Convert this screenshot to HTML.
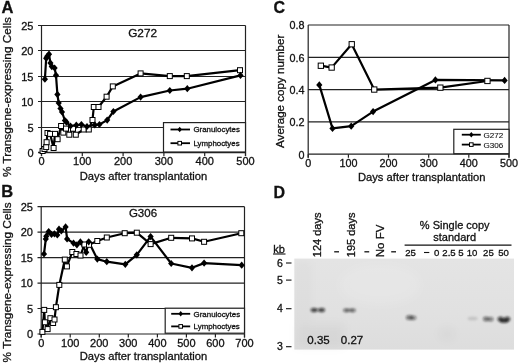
<!DOCTYPE html>
<html><head><meta charset="utf-8"><style>
html,body{margin:0;padding:0;background:#fff;}
svg{display:block;filter:grayscale(1);}
text{font-family:"Liberation Sans", sans-serif;fill:#111;stroke:#111;stroke-width:0.3px;}
</style></head><body>
<svg width="520" height="364" viewBox="0 0 520 364">
<defs>
<linearGradient id="gel" x1="0" y1="0" x2="0" y2="1">
<stop offset="0" stop-color="#e4e4e4"/><stop offset="0.6" stop-color="#e1e1e1"/><stop offset="1" stop-color="#dddddd"/>
</linearGradient>
<filter id="blur" x="-50%" y="-50%" width="200%" height="200%"><feGaussianBlur stdDeviation="1.1"/></filter>
<filter id="blur3" x="-50%" y="-50%" width="200%" height="200%"><feGaussianBlur stdDeviation="4"/></filter>
</defs>
<text x="1.5" y="12.6" font-size="16.5" text-anchor="start" font-weight="bold" >A</text>
<line x1="38" y1="127.5" x2="245.5" y2="127.5" stroke="#222" stroke-width="1.2"/>
<line x1="38" y1="101.5" x2="245.5" y2="101.5" stroke="#222" stroke-width="1.2"/>
<line x1="38" y1="76.5" x2="245.5" y2="76.5" stroke="#222" stroke-width="1.2"/>
<line x1="38" y1="50.5" x2="245.5" y2="50.5" stroke="#222" stroke-width="1.2"/>
<line x1="38" y1="25.5" x2="245.5" y2="25.5" stroke="#222" stroke-width="1.2"/>
<line x1="41.5" y1="25.5" x2="41.5" y2="156.0" stroke="#222" stroke-width="1.2"/>
<line x1="38" y1="152.5" x2="245.5" y2="152.5" stroke="#222" stroke-width="1.3"/>
<line x1="245.5" y1="25.5" x2="245.5" y2="156.0" stroke="#222" stroke-width="1.2"/>
<line x1="41.5" y1="152.5" x2="41.5" y2="156.0" stroke="#222" stroke-width="1.2"/>
<text x="41.5" y="165.3" font-size="11" text-anchor="middle" font-weight="normal" >0</text>
<line x1="82.3" y1="152.5" x2="82.3" y2="156.0" stroke="#222" stroke-width="1.2"/>
<text x="82.3" y="165.3" font-size="11" text-anchor="middle" font-weight="normal" >100</text>
<line x1="123.1" y1="152.5" x2="123.1" y2="156.0" stroke="#222" stroke-width="1.2"/>
<text x="123.1" y="165.3" font-size="11" text-anchor="middle" font-weight="normal" >200</text>
<line x1="163.9" y1="152.5" x2="163.9" y2="156.0" stroke="#222" stroke-width="1.2"/>
<text x="163.9" y="165.3" font-size="11" text-anchor="middle" font-weight="normal" >300</text>
<line x1="204.7" y1="152.5" x2="204.7" y2="156.0" stroke="#222" stroke-width="1.2"/>
<text x="204.7" y="165.3" font-size="11" text-anchor="middle" font-weight="normal" >400</text>
<line x1="245.5" y1="152.5" x2="245.5" y2="156.0" stroke="#222" stroke-width="1.2"/>
<text x="245.5" y="165.3" font-size="11" text-anchor="middle" font-weight="normal" >500</text>
<text x="33.5" y="156.9" font-size="11" text-anchor="end" font-weight="normal" >0</text>
<text x="33.5" y="131.5" font-size="11" text-anchor="end" font-weight="normal" >5</text>
<text x="33.5" y="106.1" font-size="11" text-anchor="end" font-weight="normal" >10</text>
<text x="33.5" y="80.7" font-size="11" text-anchor="end" font-weight="normal" >15</text>
<text x="33.5" y="55.3" font-size="11" text-anchor="end" font-weight="normal" >20</text>
<text x="33.5" y="29.9" font-size="11" text-anchor="end" font-weight="normal" >25</text>
<text x="142.6" y="36.6" font-size="11.8" text-anchor="middle" font-weight="normal" >G272</text>
<text x="143.5" y="179.5" font-size="11.2" text-anchor="middle" font-weight="normal" >Days after transplantation</text>
<text transform="translate(10.8,97) rotate(-90)" font-size="11.8" text-anchor="middle">% Transgene-expressing Cells</text>
<polyline points="42.6,151.0 44.5,149.0 46.2,147.1 46.6,142.2 47.5,133.0 50.1,133.9 53.6,148.0 55.0,133.9 57.6,139.2 61.1,126.0 63.3,132.6 66.0,128.6 69.3,134.7 73.0,128.7 75.8,134.7 83.7,129.5 88.8,129.5 92.5,120.0 93.8,107.0 98.5,107.0 106.6,96.7 112.8,86.4 140.6,73.4 169.8,76.1 186.8,76.1 240.0,70.2" fill="none" stroke="#000" stroke-width="2.2" stroke-linejoin="round"/>
<polyline points="44.9,79.2 46.2,58.3 47.3,56.2 49.0,54.2 50.4,63.0 51.8,66.6 54.6,68.0 56.0,75.3 57.4,94.4 58.7,103.0 60.5,108.5 62.0,112.0 64.9,120.5 66.5,122.2 70.5,126.0 76.3,125.2 81.4,124.5 87.0,126.5 94.8,124.9 99.4,124.5 107.2,120.1 113.4,111.5 140.6,97.1 169.8,90.5 187.3,88.7 240.5,75.4" fill="none" stroke="#000" stroke-width="2.2" stroke-linejoin="round"/>
<rect x="40.1" y="148.5" width="5.0" height="5.0" fill="#fff" stroke="#000" stroke-width="1"/>
<rect x="42.0" y="146.5" width="5.0" height="5.0" fill="#fff" stroke="#000" stroke-width="1"/>
<rect x="43.7" y="144.6" width="5.0" height="5.0" fill="#fff" stroke="#000" stroke-width="1"/>
<rect x="44.1" y="139.7" width="5.0" height="5.0" fill="#fff" stroke="#000" stroke-width="1"/>
<rect x="45.0" y="130.5" width="5.0" height="5.0" fill="#fff" stroke="#000" stroke-width="1"/>
<rect x="47.6" y="131.4" width="5.0" height="5.0" fill="#fff" stroke="#000" stroke-width="1"/>
<rect x="51.1" y="145.5" width="5.0" height="5.0" fill="#fff" stroke="#000" stroke-width="1"/>
<rect x="52.5" y="131.4" width="5.0" height="5.0" fill="#fff" stroke="#000" stroke-width="1"/>
<rect x="55.1" y="136.7" width="5.0" height="5.0" fill="#fff" stroke="#000" stroke-width="1"/>
<rect x="58.6" y="123.5" width="5.0" height="5.0" fill="#fff" stroke="#000" stroke-width="1"/>
<rect x="60.8" y="130.1" width="5.0" height="5.0" fill="#fff" stroke="#000" stroke-width="1"/>
<rect x="63.5" y="126.1" width="5.0" height="5.0" fill="#fff" stroke="#000" stroke-width="1"/>
<rect x="66.8" y="132.2" width="5.0" height="5.0" fill="#fff" stroke="#000" stroke-width="1"/>
<rect x="70.5" y="126.2" width="5.0" height="5.0" fill="#fff" stroke="#000" stroke-width="1"/>
<rect x="73.3" y="132.2" width="5.0" height="5.0" fill="#fff" stroke="#000" stroke-width="1"/>
<rect x="81.2" y="127.0" width="5.0" height="5.0" fill="#fff" stroke="#000" stroke-width="1"/>
<rect x="86.3" y="127.0" width="5.0" height="5.0" fill="#fff" stroke="#000" stroke-width="1"/>
<rect x="90.0" y="117.5" width="5.0" height="5.0" fill="#fff" stroke="#000" stroke-width="1"/>
<rect x="91.3" y="104.5" width="5.0" height="5.0" fill="#fff" stroke="#000" stroke-width="1"/>
<rect x="96.0" y="104.5" width="5.0" height="5.0" fill="#fff" stroke="#000" stroke-width="1"/>
<rect x="104.1" y="94.2" width="5.0" height="5.0" fill="#fff" stroke="#000" stroke-width="1"/>
<rect x="110.3" y="83.9" width="5.0" height="5.0" fill="#fff" stroke="#000" stroke-width="1"/>
<rect x="138.1" y="70.9" width="5.0" height="5.0" fill="#fff" stroke="#000" stroke-width="1"/>
<rect x="167.3" y="73.6" width="5.0" height="5.0" fill="#fff" stroke="#000" stroke-width="1"/>
<rect x="184.3" y="73.6" width="5.0" height="5.0" fill="#fff" stroke="#000" stroke-width="1"/>
<rect x="237.5" y="67.7" width="5.0" height="5.0" fill="#fff" stroke="#000" stroke-width="1"/>
<path d="M44.9 75.6L48.0 79.2L44.9 82.8L41.8 79.2Z" fill="#000"/>
<path d="M46.2 54.7L49.3 58.3L46.2 61.9L43.1 58.3Z" fill="#000"/>
<path d="M47.3 52.6L50.4 56.2L47.3 59.8L44.2 56.2Z" fill="#000"/>
<path d="M49.0 50.6L52.1 54.2L49.0 57.8L45.9 54.2Z" fill="#000"/>
<path d="M50.4 59.4L53.5 63.0L50.4 66.6L47.3 63.0Z" fill="#000"/>
<path d="M51.8 63.0L54.9 66.6L51.8 70.2L48.7 66.6Z" fill="#000"/>
<path d="M54.6 64.4L57.7 68.0L54.6 71.6L51.5 68.0Z" fill="#000"/>
<path d="M56.0 71.7L59.1 75.3L56.0 78.9L52.9 75.3Z" fill="#000"/>
<path d="M57.4 90.8L60.5 94.4L57.4 98.0L54.3 94.4Z" fill="#000"/>
<path d="M58.7 99.4L61.8 103.0L58.7 106.6L55.6 103.0Z" fill="#000"/>
<path d="M60.5 104.9L63.6 108.5L60.5 112.1L57.4 108.5Z" fill="#000"/>
<path d="M62.0 108.4L65.1 112.0L62.0 115.6L58.9 112.0Z" fill="#000"/>
<path d="M64.9 116.9L68.0 120.5L64.9 124.1L61.8 120.5Z" fill="#000"/>
<path d="M66.5 118.6L69.6 122.2L66.5 125.8L63.4 122.2Z" fill="#000"/>
<path d="M70.5 122.4L73.6 126.0L70.5 129.6L67.4 126.0Z" fill="#000"/>
<path d="M76.3 121.6L79.4 125.2L76.3 128.8L73.2 125.2Z" fill="#000"/>
<path d="M81.4 120.9L84.5 124.5L81.4 128.1L78.3 124.5Z" fill="#000"/>
<path d="M87.0 122.9L90.1 126.5L87.0 130.1L83.9 126.5Z" fill="#000"/>
<path d="M94.8 121.3L97.9 124.9L94.8 128.5L91.7 124.9Z" fill="#000"/>
<path d="M99.4 120.9L102.5 124.5L99.4 128.1L96.3 124.5Z" fill="#000"/>
<path d="M107.2 116.5L110.3 120.1L107.2 123.7L104.1 120.1Z" fill="#000"/>
<path d="M113.4 107.9L116.5 111.5L113.4 115.1L110.3 111.5Z" fill="#000"/>
<path d="M140.6 93.5L143.7 97.1L140.6 100.7L137.5 97.1Z" fill="#000"/>
<path d="M169.8 86.9L172.9 90.5L169.8 94.1L166.7 90.5Z" fill="#000"/>
<path d="M187.3 85.1L190.4 88.7L187.3 92.3L184.2 88.7Z" fill="#000"/>
<path d="M240.5 71.8L243.6 75.4L240.5 79.0L237.4 75.4Z" fill="#000"/>
<rect x="163.5" y="122.6" width="82" height="29.4" fill="#fff" stroke="#222" stroke-width="1.2"/>
<line x1="170.5" y1="129.5" x2="190" y2="129.5" stroke="#000" stroke-width="1.8"/>
<path d="M179.7 126.8L181.9 129.5L179.7 132.2L177.5 129.5Z" fill="#000"/>
<line x1="170.5" y1="143.2" x2="190" y2="143.2" stroke="#000" stroke-width="1.8"/>
<rect x="177.9" y="141.4" width="3.6" height="3.6" fill="#fff" stroke="#000" stroke-width="1"/>
<text x="193.4" y="132.3" font-size="7.9" text-anchor="start" font-weight="normal" >Granulocytes</text>
<text x="193.4" y="146" font-size="7.9" text-anchor="start" font-weight="normal" >Lymphoctyes</text>
<text x="1.2" y="197.2" font-size="16.5" text-anchor="start" font-weight="bold" >B</text>
<line x1="37.5" y1="308.5" x2="244.5" y2="308.5" stroke="#222" stroke-width="1.2"/>
<line x1="37.5" y1="283.1" x2="244.5" y2="283.1" stroke="#222" stroke-width="1.2"/>
<line x1="37.5" y1="257.6" x2="244.5" y2="257.6" stroke="#222" stroke-width="1.2"/>
<line x1="37.5" y1="232.2" x2="244.5" y2="232.2" stroke="#222" stroke-width="1.2"/>
<line x1="37.5" y1="206.7" x2="244.5" y2="206.7" stroke="#222" stroke-width="1.2"/>
<line x1="41.2" y1="206.7" x2="41.2" y2="337.5" stroke="#222" stroke-width="1.2"/>
<line x1="37.5" y1="334.0" x2="244.5" y2="334.0" stroke="#222" stroke-width="1.2"/>
<line x1="244.5" y1="206.7" x2="244.5" y2="337.5" stroke="#222" stroke-width="1.2"/>
<line x1="41.2" y1="334.0" x2="41.2" y2="337.5" stroke="#222" stroke-width="1.2"/>
<text x="41.2" y="347" font-size="11" text-anchor="middle" font-weight="normal" >0</text>
<line x1="70.2" y1="334.0" x2="70.2" y2="337.5" stroke="#222" stroke-width="1.2"/>
<text x="70.2" y="347" font-size="11" text-anchor="middle" font-weight="normal" >100</text>
<line x1="99.3" y1="334.0" x2="99.3" y2="337.5" stroke="#222" stroke-width="1.2"/>
<text x="99.3" y="347" font-size="11" text-anchor="middle" font-weight="normal" >200</text>
<line x1="128.3" y1="334.0" x2="128.3" y2="337.5" stroke="#222" stroke-width="1.2"/>
<text x="128.3" y="347" font-size="11" text-anchor="middle" font-weight="normal" >300</text>
<line x1="157.4" y1="334.0" x2="157.4" y2="337.5" stroke="#222" stroke-width="1.2"/>
<text x="157.4" y="347" font-size="11" text-anchor="middle" font-weight="normal" >400</text>
<line x1="186.4" y1="334.0" x2="186.4" y2="337.5" stroke="#222" stroke-width="1.2"/>
<text x="186.4" y="347" font-size="11" text-anchor="middle" font-weight="normal" >500</text>
<line x1="215.4" y1="334.0" x2="215.4" y2="337.5" stroke="#222" stroke-width="1.2"/>
<text x="215.4" y="347" font-size="11" text-anchor="middle" font-weight="normal" >600</text>
<line x1="244.5" y1="334.0" x2="244.5" y2="337.5" stroke="#222" stroke-width="1.2"/>
<text x="244.5" y="347" font-size="11" text-anchor="middle" font-weight="normal" >700</text>
<text x="33" y="338.2" font-size="11" text-anchor="end" font-weight="normal" >0</text>
<text x="33" y="312.7" font-size="11" text-anchor="end" font-weight="normal" >5</text>
<text x="33" y="287.3" font-size="11" text-anchor="end" font-weight="normal" >10</text>
<text x="33" y="261.8" font-size="11" text-anchor="end" font-weight="normal" >15</text>
<text x="33" y="236.4" font-size="11" text-anchor="end" font-weight="normal" >20</text>
<text x="33" y="210.9" font-size="11" text-anchor="end" font-weight="normal" >25</text>
<text x="143" y="216.7" font-size="11.5" text-anchor="middle" font-weight="normal" >G306</text>
<text x="143.5" y="360.3" font-size="11.2" text-anchor="middle" font-weight="normal" >Days after transplantation</text>
<text transform="translate(10.8,282.4) rotate(-90)" font-size="11.8" text-anchor="middle">% Transgene-expressing Cells</text>
<polyline points="42.4,331.9 44.2,309.9 44.9,322.3 47.6,329.1 50.4,318.2 53.1,323.0 54.5,319.5 55.9,307.2 59.3,284.9 64.8,259.6 66.9,266.4 72.3,252.0 76.4,254.0 80.5,255.5 84.4,244.5 89.0,244.8 97.3,241.0 106.8,237.5 124.7,233.2 136.8,232.7 150.6,244.1 171.2,237.8 192.0,238.4 204.1,241.8 241.3,233.2" fill="none" stroke="#000" stroke-width="2.2" stroke-linejoin="round"/>
<polyline points="44.0,254.0 45.8,239.0 46.3,236.2 48.7,231.5 51.5,234.4 54.4,233.8 57.3,235.0 59.0,229.2 61.3,231.0 65.6,226.9 67.1,239.0 73.5,243.1 76.9,244.8 80.4,241.9 86.2,252.3 88.7,241.8 97.3,259.1 106.8,261.7 125.3,264.3 136.8,254.8 150.6,236.6 171.2,263.5 192.0,267.8 204.1,263.1 241.7,265.2" fill="none" stroke="#000" stroke-width="2.2" stroke-linejoin="round"/>
<rect x="39.9" y="329.4" width="5.0" height="5.0" fill="#fff" stroke="#000" stroke-width="1"/>
<rect x="41.7" y="307.4" width="5.0" height="5.0" fill="#fff" stroke="#000" stroke-width="1"/>
<rect x="42.4" y="319.8" width="5.0" height="5.0" fill="#fff" stroke="#000" stroke-width="1"/>
<rect x="45.1" y="326.6" width="5.0" height="5.0" fill="#fff" stroke="#000" stroke-width="1"/>
<rect x="47.9" y="315.7" width="5.0" height="5.0" fill="#fff" stroke="#000" stroke-width="1"/>
<rect x="50.6" y="320.5" width="5.0" height="5.0" fill="#fff" stroke="#000" stroke-width="1"/>
<rect x="52.0" y="317.0" width="5.0" height="5.0" fill="#fff" stroke="#000" stroke-width="1"/>
<rect x="53.4" y="304.7" width="5.0" height="5.0" fill="#fff" stroke="#000" stroke-width="1"/>
<rect x="56.8" y="282.4" width="5.0" height="5.0" fill="#fff" stroke="#000" stroke-width="1"/>
<rect x="62.3" y="257.1" width="5.0" height="5.0" fill="#fff" stroke="#000" stroke-width="1"/>
<rect x="64.4" y="263.9" width="5.0" height="5.0" fill="#fff" stroke="#000" stroke-width="1"/>
<rect x="69.8" y="249.5" width="5.0" height="5.0" fill="#fff" stroke="#000" stroke-width="1"/>
<rect x="73.9" y="251.5" width="5.0" height="5.0" fill="#fff" stroke="#000" stroke-width="1"/>
<rect x="78.0" y="253.0" width="5.0" height="5.0" fill="#fff" stroke="#000" stroke-width="1"/>
<rect x="81.9" y="242.0" width="5.0" height="5.0" fill="#fff" stroke="#000" stroke-width="1"/>
<rect x="86.5" y="242.3" width="5.0" height="5.0" fill="#fff" stroke="#000" stroke-width="1"/>
<rect x="94.8" y="238.5" width="5.0" height="5.0" fill="#fff" stroke="#000" stroke-width="1"/>
<rect x="104.3" y="235.0" width="5.0" height="5.0" fill="#fff" stroke="#000" stroke-width="1"/>
<rect x="122.2" y="230.7" width="5.0" height="5.0" fill="#fff" stroke="#000" stroke-width="1"/>
<rect x="134.3" y="230.2" width="5.0" height="5.0" fill="#fff" stroke="#000" stroke-width="1"/>
<rect x="148.1" y="241.6" width="5.0" height="5.0" fill="#fff" stroke="#000" stroke-width="1"/>
<rect x="168.7" y="235.3" width="5.0" height="5.0" fill="#fff" stroke="#000" stroke-width="1"/>
<rect x="189.5" y="235.9" width="5.0" height="5.0" fill="#fff" stroke="#000" stroke-width="1"/>
<rect x="201.6" y="239.3" width="5.0" height="5.0" fill="#fff" stroke="#000" stroke-width="1"/>
<rect x="238.8" y="230.7" width="5.0" height="5.0" fill="#fff" stroke="#000" stroke-width="1"/>
<path d="M44.0 250.4L47.1 254.0L44.0 257.6L40.9 254.0Z" fill="#000"/>
<path d="M45.8 235.4L48.9 239.0L45.8 242.6L42.7 239.0Z" fill="#000"/>
<path d="M46.3 232.6L49.4 236.2L46.3 239.8L43.2 236.2Z" fill="#000"/>
<path d="M48.7 227.9L51.8 231.5L48.7 235.1L45.6 231.5Z" fill="#000"/>
<path d="M51.5 230.8L54.6 234.4L51.5 238.0L48.4 234.4Z" fill="#000"/>
<path d="M54.4 230.2L57.5 233.8L54.4 237.4L51.3 233.8Z" fill="#000"/>
<path d="M57.3 231.4L60.4 235.0L57.3 238.6L54.2 235.0Z" fill="#000"/>
<path d="M59.0 225.6L62.1 229.2L59.0 232.8L55.9 229.2Z" fill="#000"/>
<path d="M61.3 227.4L64.4 231.0L61.3 234.6L58.2 231.0Z" fill="#000"/>
<path d="M65.6 223.3L68.7 226.9L65.6 230.5L62.5 226.9Z" fill="#000"/>
<path d="M67.1 235.4L70.2 239.0L67.1 242.6L64.0 239.0Z" fill="#000"/>
<path d="M73.5 239.5L76.6 243.1L73.5 246.7L70.4 243.1Z" fill="#000"/>
<path d="M76.9 241.2L80.0 244.8L76.9 248.4L73.8 244.8Z" fill="#000"/>
<path d="M80.4 238.3L83.5 241.9L80.4 245.5L77.3 241.9Z" fill="#000"/>
<path d="M86.2 248.7L89.3 252.3L86.2 255.9L83.1 252.3Z" fill="#000"/>
<path d="M88.7 238.2L91.8 241.8L88.7 245.4L85.6 241.8Z" fill="#000"/>
<path d="M97.3 255.5L100.4 259.1L97.3 262.7L94.2 259.1Z" fill="#000"/>
<path d="M106.8 258.1L109.9 261.7L106.8 265.3L103.7 261.7Z" fill="#000"/>
<path d="M125.3 260.7L128.4 264.3L125.3 267.9L122.2 264.3Z" fill="#000"/>
<path d="M136.8 251.2L139.9 254.8L136.8 258.4L133.7 254.8Z" fill="#000"/>
<path d="M150.6 233.0L153.7 236.6L150.6 240.2L147.5 236.6Z" fill="#000"/>
<path d="M171.2 259.9L174.3 263.5L171.2 267.1L168.1 263.5Z" fill="#000"/>
<path d="M192.0 264.2L195.1 267.8L192.0 271.4L188.9 267.8Z" fill="#000"/>
<path d="M204.1 259.5L207.2 263.1L204.1 266.7L201.0 263.1Z" fill="#000"/>
<path d="M241.7 261.6L244.8 265.2L241.7 268.8L238.6 265.2Z" fill="#000"/>
<rect x="165.2" y="308.2" width="79.3" height="25" fill="#fff" stroke="#222" stroke-width="1.2"/>
<line x1="171.2" y1="313.8" x2="190.2" y2="313.8" stroke="#000" stroke-width="1.8"/>
<path d="M180.7 311.1L182.9 313.8L180.7 316.5L178.5 313.8Z" fill="#000"/>
<line x1="171.2" y1="326.4" x2="190.2" y2="326.4" stroke="#000" stroke-width="1.8"/>
<rect x="178.9" y="324.6" width="3.6" height="3.6" fill="#fff" stroke="#000" stroke-width="1"/>
<text x="193.6" y="316.6" font-size="7.9" text-anchor="start" font-weight="normal" >Granulocytes</text>
<text x="193.6" y="329.2" font-size="7.9" text-anchor="start" font-weight="normal" >Lymphoctyes</text>
<text x="273.5" y="12.8" font-size="16" text-anchor="start" font-weight="bold" >C</text>
<line x1="308.2" y1="121.9" x2="509.0" y2="121.9" stroke="#222" stroke-width="1.2"/>
<line x1="308.2" y1="89.6" x2="509.0" y2="89.6" stroke="#222" stroke-width="1.2"/>
<line x1="308.2" y1="57.3" x2="509.0" y2="57.3" stroke="#222" stroke-width="1.2"/>
<line x1="308.2" y1="25.0" x2="509.0" y2="25.0" stroke="#222" stroke-width="1.2"/>
<line x1="308.2" y1="25.0" x2="308.2" y2="157.7" stroke="#222" stroke-width="1.2"/>
<line x1="308.2" y1="154.2" x2="509.0" y2="154.2" stroke="#222" stroke-width="1.2"/>
<line x1="509.0" y1="25.0" x2="509.0" y2="157.7" stroke="#222" stroke-width="1.2"/>
<line x1="308.2" y1="154.2" x2="308.2" y2="157.7" stroke="#222" stroke-width="1.2"/>
<text x="308.2" y="166.5" font-size="10.8" text-anchor="middle" font-weight="normal" >0</text>
<line x1="348.4" y1="154.2" x2="348.4" y2="157.7" stroke="#222" stroke-width="1.2"/>
<text x="348.4" y="166.5" font-size="10.8" text-anchor="middle" font-weight="normal" >100</text>
<line x1="388.5" y1="154.2" x2="388.5" y2="157.7" stroke="#222" stroke-width="1.2"/>
<text x="388.5" y="166.5" font-size="10.8" text-anchor="middle" font-weight="normal" >200</text>
<line x1="428.7" y1="154.2" x2="428.7" y2="157.7" stroke="#222" stroke-width="1.2"/>
<text x="428.7" y="166.5" font-size="10.8" text-anchor="middle" font-weight="normal" >300</text>
<line x1="468.8" y1="154.2" x2="468.8" y2="157.7" stroke="#222" stroke-width="1.2"/>
<text x="468.8" y="166.5" font-size="10.8" text-anchor="middle" font-weight="normal" >400</text>
<line x1="509.0" y1="154.2" x2="509.0" y2="157.7" stroke="#222" stroke-width="1.2"/>
<text x="509.0" y="166.5" font-size="10.8" text-anchor="middle" font-weight="normal" >500</text>
<text x="304.5" y="158.5" font-size="10.8" text-anchor="end" font-weight="normal" >0</text>
<text x="304.5" y="126.2" font-size="10.8" text-anchor="end" font-weight="normal" >0.2</text>
<text x="304.5" y="93.9" font-size="10.8" text-anchor="end" font-weight="normal" >0.4</text>
<text x="304.5" y="61.6" font-size="10.8" text-anchor="end" font-weight="normal" >0.6</text>
<text x="304.5" y="29.3" font-size="10.8" text-anchor="end" font-weight="normal" >0.8</text>
<text x="421.7" y="180.5" font-size="11.2" text-anchor="middle" font-weight="normal" >Days after transplantation</text>
<text transform="translate(283.5,91.3) rotate(-90)" font-size="11.6" text-anchor="middle">Average copy number</text>
<polyline points="320.9,65.7 331.6,67.6 351.7,44.3 374.2,89.6 440.3,87.7 487.4,81.0" fill="none" stroke="#000" stroke-width="2.2" stroke-linejoin="round"/>
<polyline points="319.3,84.9 332.5,128.4 351.2,126.2 373.1,111.6 435.4,79.9 504.6,80.4" fill="none" stroke="#000" stroke-width="2.2" stroke-linejoin="round"/>
<rect x="318.2" y="63.1" width="5.3" height="5.3" fill="#fff" stroke="#000" stroke-width="1"/>
<rect x="329.0" y="64.9" width="5.3" height="5.3" fill="#fff" stroke="#000" stroke-width="1"/>
<rect x="349.1" y="41.6" width="5.3" height="5.3" fill="#fff" stroke="#000" stroke-width="1"/>
<rect x="371.6" y="86.9" width="5.3" height="5.3" fill="#fff" stroke="#000" stroke-width="1"/>
<rect x="437.7" y="85.0" width="5.3" height="5.3" fill="#fff" stroke="#000" stroke-width="1"/>
<rect x="484.8" y="78.3" width="5.3" height="5.3" fill="#fff" stroke="#000" stroke-width="1"/>
<path d="M319.3 81.3L322.4 84.9L319.3 88.5L316.2 84.9Z" fill="#000"/>
<path d="M332.5 124.8L335.6 128.4L332.5 132.0L329.4 128.4Z" fill="#000"/>
<path d="M351.2 122.6L354.3 126.2L351.2 129.8L348.1 126.2Z" fill="#000"/>
<path d="M373.1 108.0L376.2 111.6L373.1 115.2L370.0 111.6Z" fill="#000"/>
<path d="M435.4 76.3L438.5 79.9L435.4 83.5L432.3 79.9Z" fill="#000"/>
<path d="M504.6 76.8L507.7 80.4L504.6 84.0L501.5 80.4Z" fill="#000"/>
<rect x="453.8" y="129.3" width="55.2" height="24.4" fill="#fff" stroke="#222" stroke-width="1.2"/>
<line x1="461.8" y1="134.7" x2="480.8" y2="134.7" stroke="#000" stroke-width="1.8"/>
<path d="M471.3 132.0L473.5 134.7L471.3 137.4L469.1 134.7Z" fill="#000"/>
<line x1="461.8" y1="144.6" x2="480.8" y2="144.6" stroke="#000" stroke-width="1.8"/>
<rect x="469.5" y="142.8" width="3.6" height="3.6" fill="#fff" stroke="#000" stroke-width="1"/>
<text x="483.5" y="137.8" font-size="8.1" text-anchor="start" font-weight="normal" style="stroke-width:0.1px">G272</text>
<text x="483.5" y="148" font-size="8.1" text-anchor="start" font-weight="normal" style="stroke-width:0.1px">G306</text>
<text x="273.5" y="197.5" font-size="16" text-anchor="start" font-weight="bold" >D</text>
<rect x="294.3" y="258.6" width="219.7" height="91" fill="url(#gel)"/>
<g filter="url(#blur3)">
<rect x="296" y="324" width="48" height="24" fill="#000" opacity="0.035"/>
<rect x="296" y="262" width="14" height="60" fill="#000" opacity="0.025"/>
<ellipse cx="447" cy="334" rx="8" ry="6" fill="#000" opacity="0.035"/>
<ellipse cx="380" cy="285" rx="40" ry="20" fill="#fff" opacity="0.12"/>
</g>
<g filter="url(#blur)">
<ellipse cx="313.9" cy="310" rx="3.3" ry="2.3" fill="#111" opacity="0.66"/>
<ellipse cx="321.8" cy="310" rx="3.3" ry="2.3" fill="#111" opacity="0.66"/>
<ellipse cx="317.8" cy="310" rx="4.5" ry="1.8" fill="#111" opacity="0.3"/>
<ellipse cx="346.2" cy="310.3" rx="3.2" ry="2.1" fill="#111" opacity="0.45"/>
<ellipse cx="352.7" cy="310.3" rx="3.2" ry="2.1" fill="#111" opacity="0.45"/>
<ellipse cx="349.4" cy="310.3" rx="4.5" ry="1.8" fill="#111" opacity="0.3"/>
<ellipse cx="409.5" cy="317.5" rx="3.6" ry="2.6" fill="#111" opacity="0.5"/>
<ellipse cx="413.2" cy="317.8" rx="3.2" ry="2.4" fill="#111" opacity="0.42"/>
<ellipse cx="472.6" cy="318.5" rx="5" ry="2" fill="#111" opacity="0.12"/>
<ellipse cx="486" cy="319" rx="3" ry="2.4" fill="#111" opacity="0.5"/>
<ellipse cx="490.5" cy="319.2" rx="3" ry="2.4" fill="#111" opacity="0.45"/>
<ellipse cx="500.6" cy="319.1" rx="3.2" ry="2.6" fill="#111" opacity="0.68"/>
<ellipse cx="507.2" cy="319.1" rx="3.2" ry="2.6" fill="#111" opacity="0.68"/>
<ellipse cx="504" cy="320.8" rx="4.4" ry="2.3" fill="#111" opacity="0.72"/>
</g>
<text x="273.2" y="252.9" font-size="11" text-anchor="start" font-weight="normal" >kb</text>
<line x1="273" y1="254" x2="285.5" y2="254" stroke="#111" stroke-width="1.1"/>
<text x="282.8" y="266.6" font-size="10.5" text-anchor="end" font-weight="normal" >6</text>
<line x1="286" y1="263" x2="291.5" y2="263" stroke="#111" stroke-width="1.1"/>
<text x="282.8" y="283.7" font-size="10.5" text-anchor="end" font-weight="normal" >5</text>
<line x1="286" y1="280.1" x2="291.5" y2="280.1" stroke="#111" stroke-width="1.1"/>
<text x="282.8" y="312.3" font-size="10.5" text-anchor="end" font-weight="normal" >4</text>
<line x1="286" y1="308.7" x2="291.5" y2="308.7" stroke="#111" stroke-width="1.1"/>
<text x="282.8" y="350.3" font-size="10.5" text-anchor="end" font-weight="normal" >3</text>
<line x1="286" y1="346.7" x2="291.5" y2="346.7" stroke="#111" stroke-width="1.1"/>
<text transform="translate(320.8,257.2) rotate(-90)" font-size="11">124 days</text>
<text transform="translate(355.0,257.2) rotate(-90)" font-size="11">195 days</text>
<text transform="translate(384.4,257.2) rotate(-90)" font-size="11.5">No FV</text>
<line x1="334.20000000000005" y1="251.8" x2="339.0" y2="251.8" stroke="#111" stroke-width="1.3"/>
<line x1="364.40000000000003" y1="251.8" x2="369.2" y2="251.8" stroke="#111" stroke-width="1.3"/>
<line x1="391.20000000000005" y1="251.8" x2="396.0" y2="251.8" stroke="#111" stroke-width="1.3"/>
<text x="454.7" y="228.5" font-size="11" text-anchor="middle" font-weight="normal" >% Single copy</text>
<text x="454.7" y="240.6" font-size="11" text-anchor="middle" font-weight="normal" >standard</text>
<line x1="404.6" y1="245.2" x2="511.5" y2="245.2" stroke="#111" stroke-width="1.2"/>
<text x="410.5" y="256.2" font-size="9.6" text-anchor="middle" font-weight="normal" >25</text>
<text x="436.6" y="256.2" font-size="9.6" text-anchor="middle" font-weight="normal" >0</text>
<text x="449" y="256.2" font-size="9.6" text-anchor="middle" font-weight="normal" >2.5</text>
<text x="460.9" y="256.2" font-size="9.6" text-anchor="middle" font-weight="normal" >5</text>
<text x="472" y="256.2" font-size="9.6" text-anchor="middle" font-weight="normal" >10</text>
<text x="488.4" y="256.2" font-size="9.6" text-anchor="middle" font-weight="normal" >25</text>
<text x="503.5" y="256.2" font-size="9.6" text-anchor="middle" font-weight="normal" >50</text>
<line x1="424" y1="252.5" x2="429.3" y2="252.5" stroke="#111" stroke-width="1.1"/>
<text x="318.5" y="344.2" font-size="11.5" text-anchor="middle" font-weight="normal" >0.35</text>
<text x="352" y="344.2" font-size="11.5" text-anchor="middle" font-weight="normal" >0.27</text>
</svg>
</body></html>
